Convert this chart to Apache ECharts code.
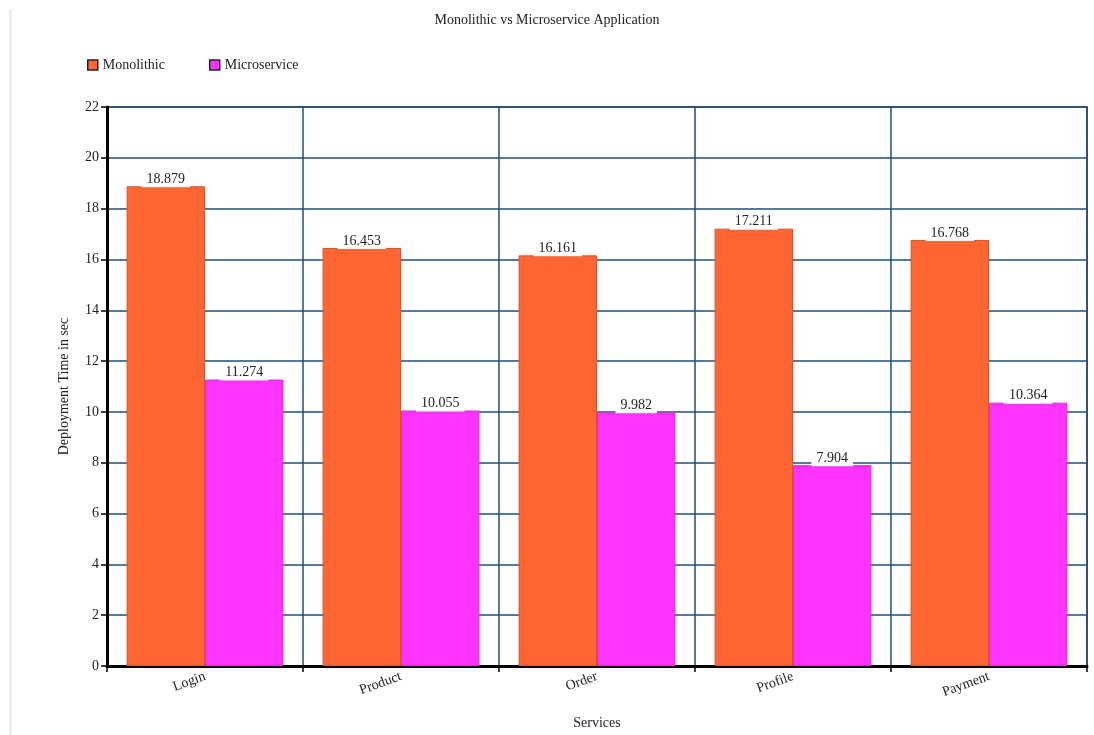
<!DOCTYPE html>
<html>
<head>
<meta charset="utf-8">
<script src="https://cdn.jsdelivr.net/npm/echarts@6/dist/echarts.min.js"></script>
<style>
html, body { margin: 0; padding: 0; background: #fff; }
#main { width: 1094px; height: 735px; }
</style>
</head>
<body>
<div id="main"></div>
<script>
var categories = ['Login', 'Product', 'Order', 'Profile', 'Payment'];
var monolithic = [18.879, 16.453, 16.161, 17.211, 16.768];
var microservice = [11.274, 10.055, 9.982, 7.904, 10.364];
var yTicks = { min: 0, max: 22, interval: 2 };

var serif = '"Liberation Serif", "DejaVu Serif", serif';
var navy = '#1f4e79';

var chart = echarts.init(document.getElementById('main'));

function barLabel() {
    return {
        show: true,
        position: 'top',
        distance: -1,
        fontFamily: serif,
        fontSize: 14,
        color: '#222',
        backgroundColor: '#fff',
        padding: [1, 5, 1, 5],
        formatter: function (p) { return String(p.value); }
    };
}

chart.setOption({
    animation: false,
    title: {
        text: 'Monolithic vs Microservice Application',
        left: 'center',
        top: 8,
        textStyle: { fontFamily: serif, fontSize: 14, fontWeight: 'normal', color: '#222' }
    },
    legend: {
        left: 82,
        top: 53,
        itemWidth: 10,
        itemHeight: 10,
        itemGap: 44,
        icon: 'rect',
        textStyle: { fontFamily: serif, fontSize: 14, color: '#222' },
        data: [
            { name: 'Monolithic', itemStyle: { borderColor: '#222', borderWidth: 1.5 } },
            { name: 'Microservice', itemStyle: { borderColor: '#222', borderWidth: 1.5 } }
        ]
    },
    graphic: [{
        type: 'rect',
        shape: { x: 9, y: 9, width: 3, height: 735 },
        style: { fill: '#eeeeee' },
        silent: true
    }],
    grid: { left: 107, right: 7, top: 107, bottom: 68, show: true, borderColor: '#333', borderWidth: 1.5, backgroundColor: 'transparent' },
    xAxis: {
        type: 'category',
        data: categories,
        name: 'Services',
        nameLocation: 'middle',
        nameGap: 50,
        nameTextStyle: { fontFamily: serif, fontSize: 14, color: '#222' },
        axisLine: { lineStyle: { color: '#000', width: 3 } },
        axisTick: { show: true, length: 6, lineStyle: { color: '#000', width: 1.5 } },
        axisLabel: { rotate: 20, fontFamily: serif, fontSize: 14, color: '#222', margin: 10 },
        splitLine: { show: true, lineStyle: { color: navy, width: 1.5 } }
    },
    yAxis: {
        type: 'value',
        min: yTicks.min,
        max: yTicks.max,
        interval: yTicks.interval,
        name: 'Deployment Time in sec',
        nameLocation: 'middle',
        nameGap: 36,
        nameTextStyle: { fontFamily: serif, fontSize: 14, color: '#222' },
        axisLine: { show: true, lineStyle: { color: '#000', width: 3 } },
        axisTick: { show: true, length: 6, lineStyle: { color: '#000', width: 1.5 } },
        axisLabel: { fontFamily: serif, fontSize: 14, color: '#222', margin: 8 },
        splitLine: { show: true, lineStyle: { color: navy, width: 1.5 } }
    },
    series: [
        {
            name: 'Monolithic',
            type: 'bar',
            data: monolithic,
            barGap: '0%',
            barCategoryGap: '20%',
            itemStyle: { color: '#ff6633', borderColor: '#d9532a', borderWidth: 1 },
            label: barLabel()
        },
        {
            name: 'Microservice',
            type: 'bar',
            data: microservice,
            itemStyle: { color: '#ff33ff', borderColor: '#d62bd6', borderWidth: 1 },
            label: barLabel()
        }
    ]
});
</script>
</body>
</html>
